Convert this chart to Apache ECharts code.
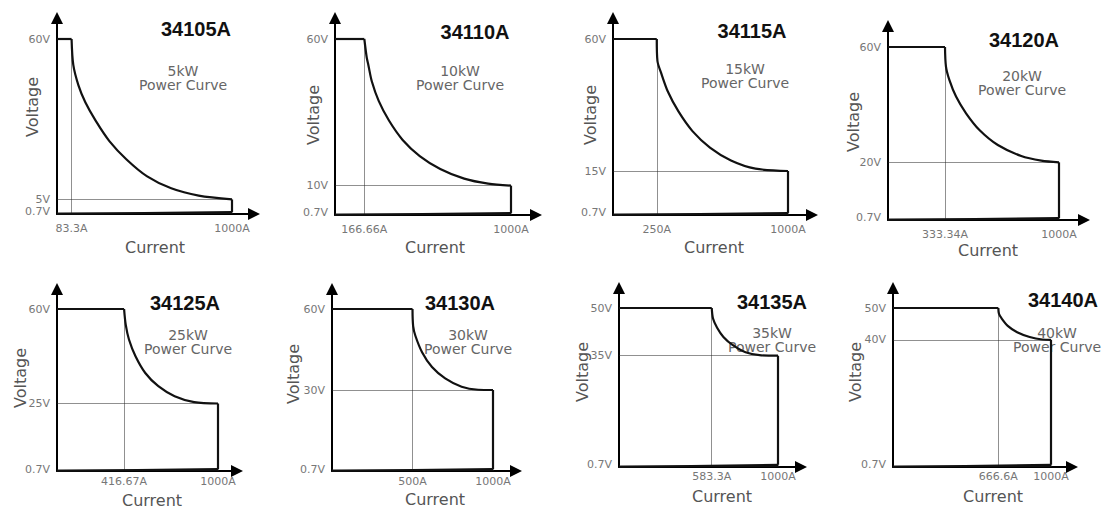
<!DOCTYPE html>
<html><head><meta charset="utf-8">
<script src="https://cdn.jsdelivr.net/npm/echarts@6/dist/echarts.min.js"></script>
<style>html,body{margin:0;padding:0;background:#fff}#c{width:1103px;height:509px}</style>
</head><body><div id="c"></div>
<script>
// ---------- DATA ----------
const models = ['34105A','34110A','34115A','34120A','34125A','34130A','34135A','34140A'];
const powerLabels = ['5kW','10kW','15kW','20kW','25kW','30kW','35kW','40kW'];
const maxVoltage = [60,60,60,60,60,60,50,50];
const minVoltage = [5,10,15,20,25,30,35,40];
const lowVoltage = 0.7;
const kneeCurrent = [83.3,166.66,250,333.34,416.67,500,583.33,666.66];
const maxCurrent = 1000;
const currentTickLabels = ['83.3A','166.66A','250A','333.34A','416.67A','500A','583.3A','666.6A'];
const maxCurrentLabel = '1000A';
const voltageTickLabels = [
  ['0.7V','5V','60V'],['0.7V','10V','60V'],['0.7V','15V','60V'],['0.7V','20V','60V'],
  ['0.7V','25V','60V'],['0.7V','30V','60V'],['0.7V','35V','50V'],['0.7V','40V','50V']
];
// power-curve points (current A, voltage V)
const curveI_34105A = [93.1,122.6,161.8,220.7,299.2,397.4,515.2,652.6,809.6];
const curveV_34105A = [51.1,44.1,38.3,32.0,25.0,18.7,12.9,8.8,6.3];
const curveI_34110A = [180.3,190,209.4,248.3,306.6,384.4,481.5,598,734,870];
const curveV_34110A = [53.7,51,45.5,38.9,32.2,25.6,20.1,15.7,12.4,10.7];
const curveI_34115A = [254,274,314,374,454,554,674,814];
const curveV_34115A = [52.5,48.6,42,35.3,28.6,23,18.6,15.8];
const curveI_34120A = [339,358.8,397.9,456.5,534.7,642.2,779,896.4];
const curveV_34120A = [53.2,48.6,42.8,37,31.2,26,22.2,20.6];
const curveI_34125A = [426.8,447,487.6,548.3,629.3,730.6,852.2];
const curveV_34125A = [54.2,48.7,42.5,36.3,31.4,27.7,25.5];
const curveI_34130A = [504,518.4,559.4,621,703,805,907.8];
const curveV_34130A = [53.7,50,44,38.5,34.3,31.2,30.1];
const curveI_34135A = [591.3,617,656.7,716.3,795.6,894.8];
const curveV_34135A = [46.7,43.8,40.9,38.3,36.1,35.1];
const curveI_34140A = [670.6,686.5,726.2,785.7,865,944.4];
const curveV_34140A = [48.2,46.8,44.4,42.4,40.9,40.1];
const curveI = [curveI_34105A,curveI_34110A,curveI_34115A,curveI_34120A,curveI_34125A,curveI_34130A,curveI_34135A,curveI_34140A];
const curveV = [curveV_34105A,curveV_34110A,curveV_34115A,curveV_34120A,curveV_34125A,curveV_34130A,curveV_34135A,curveV_34140A];

// ---------- LAYOUT (pixels) ----------
// [x of origin, x of 1000A, x of arrow tip, y of origin, y of max voltage, y of arrow tip]
const layout = [
  [57,232,260,214,39,12],[335,511,542,215,39,12],[613,788,818,215,39,12],[888,1059,1090,220,47,20],
  [57,218,243,471,309,283],[332,493,522,471,309,283],[619,778,807,467,308,282],[893,1051,1078,467,308,282]
];
const xLabelMargin = [9,9,9,9,5,5,4,4];
const titlePos = [[196,29],[475,32],[752,31],[1024,40],[185,303],[460,303],[772,302],[1063,300]];
const powerPos = [[183,78],[460,78],[745,76],[1022,83],[188,342],[468,342],[772,340],[1057,340]];
const voltPos = [[32,107],[313,115],[590,115],[853,122],[20,378],[293,374],[582,372],[855,372]];
const currPos = [[155,247],[435,247],[714,247],[988,250],[152,500],[435,499],[722,496],[993,496]];

const ARROW = 6;
const grids = [], xAxes = [], yAxes = [], series = [], graphics = [];
const thin = {color:'#222', width:1};
const thick = {color:'#111', width:2.2};

models.forEach((m, i) => {
  const [x0, x1k, xt, y0, yTop, yt] = layout[i];
  const gw = xt - ARROW - x0, gh = y0 - (yt + ARROW);
  grids.push({left:x0, top:yt+ARROW, width:gw, height:gh, containLabel:false});
  const xMax = maxCurrent * gw / (x1k - x0);
  const yMax = maxVoltage[i] * gh / (y0 - yTop);
  const xLabelVals = [kneeCurrent[i], maxCurrent];
  const xLabelTxt = [currentTickLabels[i], maxCurrentLabel];
  const yLabelVals = [lowVoltage, minVoltage[i], maxVoltage[i]];
  const yLabelTxt = voltageTickLabels[i];
  xAxes.push({
    gridIndex:i, type:'value', min:0, max:xMax, splitLine:{show:false}, axisTick:{show:false},
    axisLine:{show:true, lineStyle:{color:'#000', width:2}, symbol:['none','triangle'], symbolSize:[12,12]},
    axisLabel:{customValues:xLabelVals, formatter:v=>xLabelTxt[xLabelVals.indexOf(v)] ?? '', color:'#777', fontSize:11, fontFamily:'DejaVu Sans', margin:xLabelMargin[i]}
  });
  yAxes.push({
    gridIndex:i, type:'value', min:0, max:yMax, splitLine:{show:false}, axisTick:{show:false},
    axisLine:{show:true, lineStyle:{color:'#000', width:2}, symbol:['none','triangle'], symbolSize:[12,12]},
    axisLabel:{customValues:yLabelVals, formatter:v=>yLabelTxt[yLabelVals.indexOf(v)] ?? '', color:'#777', fontSize:11, fontFamily:'DejaVu Sans', margin:7}
  });
  // thin guide lines
  series.push({
    type:'lines', coordinateSystem:'cartesian2d', xAxisIndex:i, yAxisIndex:i, silent:true,
    lineStyle:thin, animation:false,
    data:[
      {coords:[[0,minVoltage[i]],[maxCurrent,minVoltage[i]]]},
      {coords:[[0,lowVoltage],[maxCurrent,lowVoltage]]},
      {coords:[[kneeCurrent[i],0],[kneeCurrent[i],maxVoltage[i]]]},
      {coords:[[maxCurrent,0],[maxCurrent,lowVoltage]]}
    ]
  });
  // constant voltage top line
  series.push({type:'line', xAxisIndex:i, yAxisIndex:i, symbol:'none', silent:true, animation:false,
    lineStyle:thick, data:[[0,maxVoltage[i]],[kneeCurrent[i],maxVoltage[i]]]});
  // power curve
  const pts = [[kneeCurrent[i],maxVoltage[i]]];
  curveI[i].forEach((c,k)=>pts.push([c,curveV[i][k]]));
  pts.push([maxCurrent,minVoltage[i]]);
  series.push({type:'line', xAxisIndex:i, yAxisIndex:i, symbol:'none', silent:true, animation:false,
    smooth:0.3, lineStyle:thick, data:pts});
  // right side down to 0.7 V
  series.push({type:'line', xAxisIndex:i, yAxisIndex:i, symbol:'none', silent:true, animation:false,
    lineStyle:thick, data:[[maxCurrent,minVoltage[i]],[maxCurrent,lowVoltage]]});
  // wedge back to origin
  series.push({type:'line', xAxisIndex:i, yAxisIndex:i, symbol:'none', silent:true, animation:false,
    lineStyle:{color:'#111', width:2}, areaStyle:{color:'#111', opacity:1, origin:'start'},
    data:[[maxCurrent,lowVoltage],[0,0]]});

  graphics.push({type:'text', x:titlePos[i][0], y:titlePos[i][1], silent:true,
    style:{text:m, fill:'#111', font:'bold 20px "Liberation Sans", Arial, sans-serif', align:'center', verticalAlign:'middle'}});
  graphics.push({type:'text', x:powerPos[i][0], y:powerPos[i][1], silent:true,
    style:{text:powerLabels[i]+'\nPower Curve', fill:'#666', font:'14px "DejaVu Sans", sans-serif', lineHeight:14, align:'center', verticalAlign:'middle'}});
  graphics.push({type:'text', x:voltPos[i][0], y:voltPos[i][1], rotation:Math.PI/2, silent:true,
    style:{text:'Voltage', fill:'#555', font:'16px "DejaVu Sans", sans-serif', align:'center', verticalAlign:'middle'}});
  graphics.push({type:'text', x:currPos[i][0], y:currPos[i][1], silent:true,
    style:{text:'Current', fill:'#555', font:'16px "DejaVu Sans", sans-serif', align:'center', verticalAlign:'middle'}});
});

const chart = echarts.init(document.getElementById('c'), null, {renderer:'svg'});
chart.setOption({
  animation:false, backgroundColor:'#fff',
  grid:grids, xAxis:xAxes, yAxis:yAxes, series:series, graphic:graphics
});
</script></body></html>
